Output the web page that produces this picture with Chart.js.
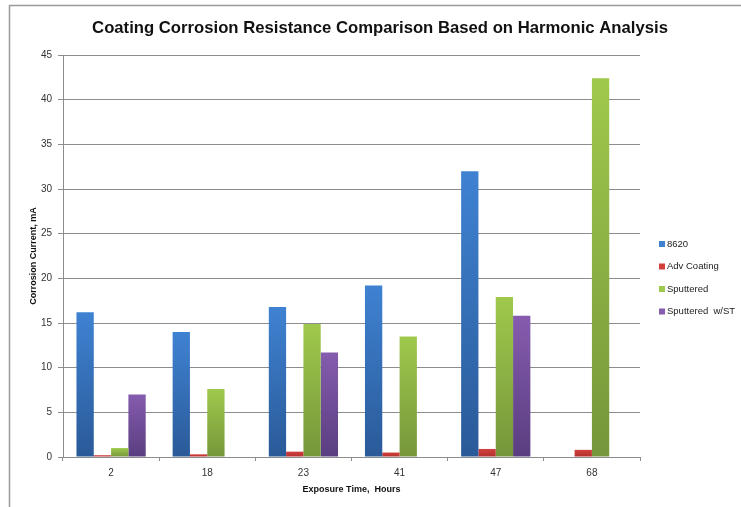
<!DOCTYPE html>
<html>
<head>
<meta charset="utf-8">
<script src="https://cdn.jsdelivr.net/npm/chart.js@4.4.0/dist/chart.umd.min.js"></script>
<style>
  html, body { margin: 0; padding: 0; background: #fff; }
  #wrap { width: 741px; height: 507px; position: relative; }
</style>
</head>
<body>
<div id="wrap"><canvas id="chart" width="741" height="507"></canvas></div>
<script>
// Data
const hours = ['2', '18', '23', '41', '47', '68'];
const series8620 = [16.2, 14.0, 16.8, 19.2, 32.0, 0];
const advCoating = [0.2, 0.3, 0.6, 0.5, 0.9, 0.8];
const sputtered = [1.0, 7.6, 14.9, 13.5, 17.9, 42.4];
const sputteredST = [7.0, 0, 11.7, 0, 15.8, 0];
const seriesNames = ['8620', 'Adv Coating', 'Sputtered', 'Sputtered  w/ST'];

// top / bottom colours of each bar's gradient
const colorPairs = [
    ['#3f82d2', '#2a5a98'],
    ['#d2403c', '#b0302e'],
    ['#9fc94c', '#76963a'],
    ['#855cae', '#5a3d80']
];

const FONT = "'Liberation Sans', Arial, sans-serif";

function barGradient(idx) {
    return function(context) {
        const chart = context.chart;
        const area = chart.chartArea;
        const pair = colorPairs[idx];
        if (!area || context.parsed == null || !chart.scales.y) return pair[0];
        const yScale = chart.scales.y;
        const top = yScale.getPixelForValue(context.parsed.y);
        const bottom = yScale.getPixelForValue(0);
        if (!isFinite(top) || bottom - top < 1) return pair[0];
        const g = chart.ctx.createLinearGradient(0, top, 0, bottom);
        g.addColorStop(0, pair[0]);
        g.addColorStop(1, pair[1]);
        return g;
    };
}

// frame, title and legend drawn on the canvas
const decorations = {
    id: 'decorations',
    afterDraw(chart) {
        const ctx = chart.ctx;
        ctx.save();
        // frame lines
        ctx.strokeStyle = '#9a9a9a';
        ctx.lineWidth = 1.5;
        ctx.beginPath();
        ctx.moveTo(9.5, 507);
        ctx.lineTo(9.5, 5.5);
        ctx.lineTo(741, 5.5);
        ctx.stroke();

        // title
        ctx.fillStyle = '#111';
        ctx.font = 'bold 16.7px ' + FONT;
        ctx.textAlign = 'center';
        ctx.textBaseline = 'middle';
        ctx.fillText('Coating Corrosion Resistance Comparison Based on Harmonic Analysis', 380, 28);

        // legend
        ctx.font = '9.5px ' + FONT;
        ctx.textAlign = 'left';
        const rows = [244, 266.5, 289, 311.5];
        chart.data.datasets.forEach(function(ds, i) {
            ctx.fillStyle = colorPairs[i][0];
            ctx.fillRect(659, rows[i] - 3, 6, 6);
            ctx.fillStyle = '#222';
            ctx.fillText(ds.label, 667, rows[i]);
        });
        ctx.restore();
    }
};

const ctx = document.getElementById('chart').getContext('2d');
new Chart(ctx, {
    type: 'bar',
    data: {
        labels: hours,
        datasets: [
            { label: seriesNames[0], data: series8620, backgroundColor: barGradient(0) },
            { label: seriesNames[1], data: advCoating, backgroundColor: barGradient(1) },
            { label: seriesNames[2], data: sputtered, backgroundColor: barGradient(2) },
            { label: seriesNames[3], data: sputteredST, backgroundColor: barGradient(3) }
        ]
    },
    options: {
        responsive: false,
        animation: false,
        devicePixelRatio: 1,
        datasets: {
            bar: { categoryPercentage: 0.72, barPercentage: 1.0 }
        },
        layout: { padding: { left: 24, right: 101, top: 55, bottom: 12 } },
        plugins: {
            legend: { display: false },
            title: { display: false },
            tooltip: { enabled: false }
        },
        scales: {
            x: {
                afterFit: function(scale) { scale.height = 38; },
                grid: {
                    drawOnChartArea: false,
                    drawTicks: true,
                    tickLength: 4,
                    offset: true,
                    color: '#8c8c8c'
                },
                border: { color: '#8c8c8c', width: 1 },
                ticks: { color: '#333', font: { family: FONT, size: 10 }, padding: 6 },
                title: {
                    display: true,
                    text: 'Exposure Time,  Hours',
                    color: '#111',
                    font: { family: FONT, size: 9, weight: 'bold' },
                    padding: { top: 4, bottom: 0 }
                }
            },
            y: {
                min: 0,
                max: 45,
                afterFit: function(scale) { scale.width = 39; },
                ticks: { stepSize: 5, color: '#333', font: { family: FONT, size: 10 }, padding: 6 },
                grid: { color: '#8c8c8c', tickLength: 5 },
                border: { color: '#8c8c8c', width: 1 },
                title: {
                    display: true,
                    text: 'Corrosion Current, mA',
                    color: '#111',
                    font: { family: FONT, size: 9, weight: 'bold' },
                    padding: { top: 4, bottom: 0 }
                }
            }
        }
    },
    plugins: [decorations]
});
</script>
</body>
</html>
